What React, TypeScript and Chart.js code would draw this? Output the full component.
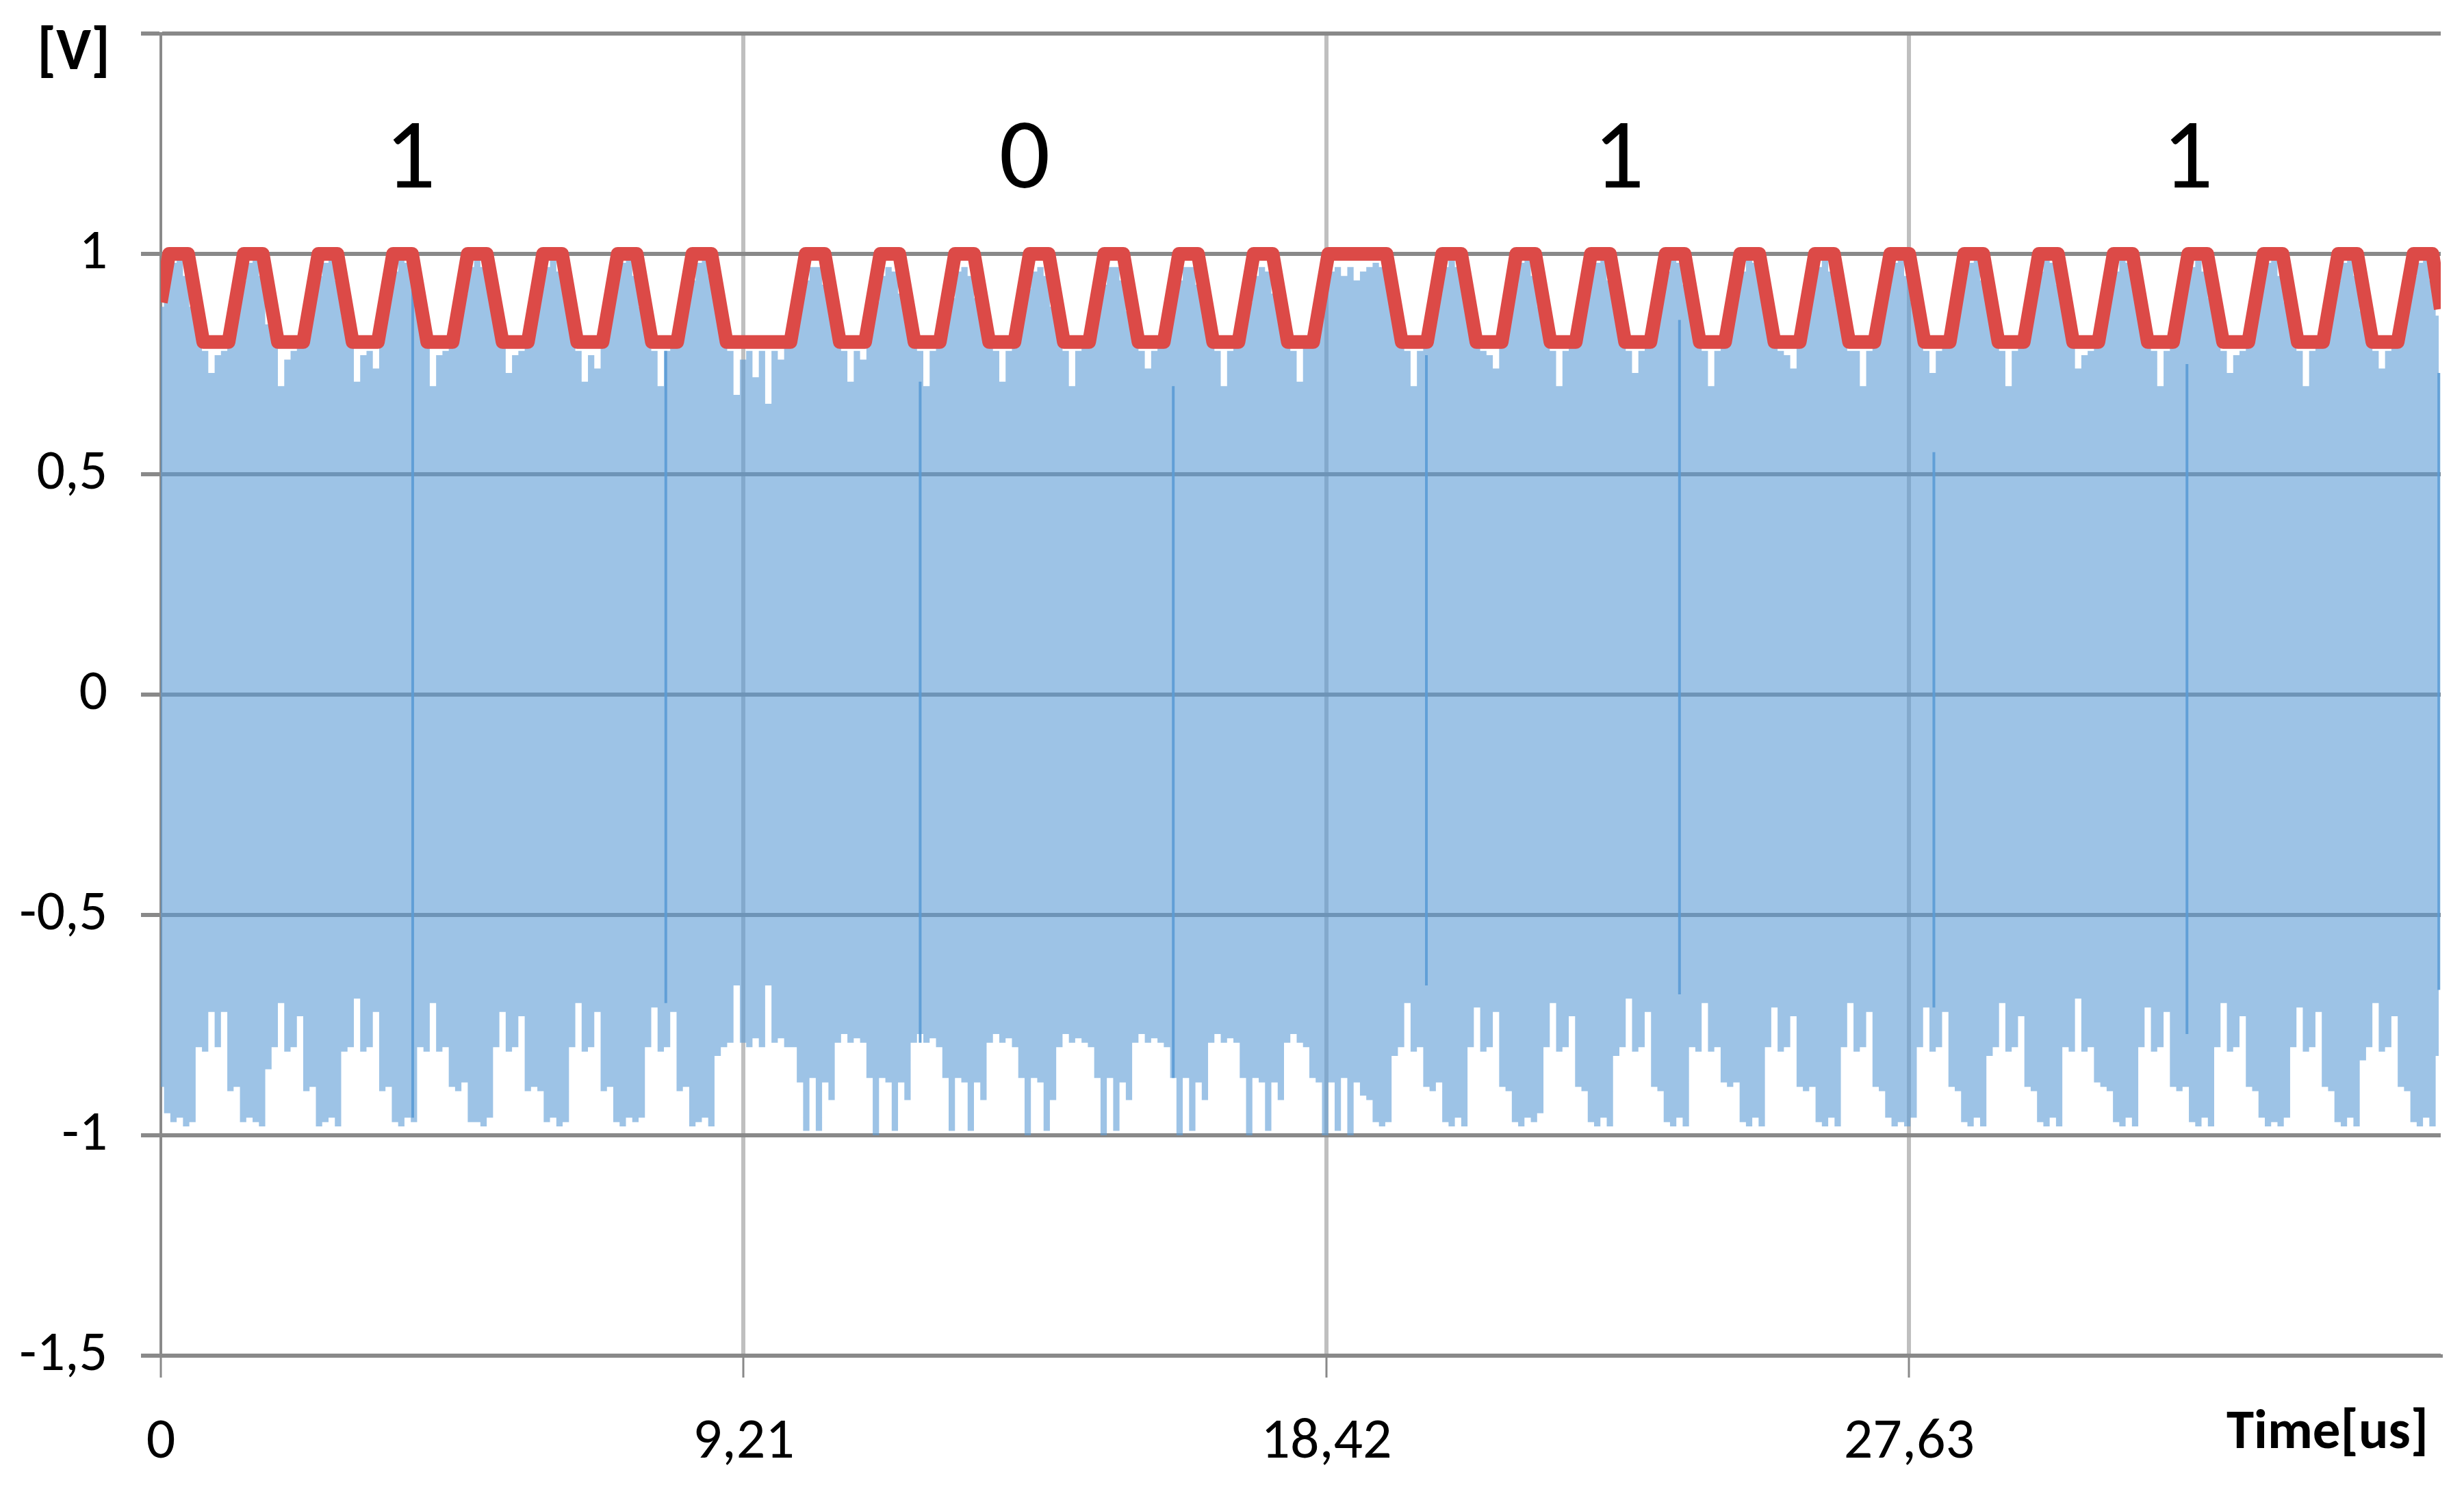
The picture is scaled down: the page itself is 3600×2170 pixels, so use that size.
import React, { useEffect, useRef } from 'react';
import { Chart, registerables } from 'chart.js';

Chart.register(...registerables);

const FONT = "Carlito, Lato, 'Liberation Sans Narrow', 'DejaVu Sans Condensed', sans-serif";

// Axis ticks
const xTickValues = [0, 9.21, 18.42, 27.63];
const xTickLabels = ['0', '9,21', '18,42', '27,63'];
const yTickValues = [-1.5, -1, -0.5, 0, 0.5, 1, 1.5];
const yTickLabels = ['-1,5', '-1', '-0,5', '0', '0,5', '1', ''];
const xMax = 36.03;

// Bit annotations
const bitLabels = ['1', '0', '1', '1'];
const bitLabelTime = [3.94, 13.65, 23.04, 32.03];
const bitLabelVolt = 1.15;

// Red (reference carrier) polyline vertices
const redTime = [
  0, 0.13, 0.43, 0.67, 1.07, 1.31, 1.61, 1.85, 2.25, 2.49, 2.79, 3.03, 3.43, 3.67, 3.97, 4.21, 4.61,
  4.85, 5.15, 5.40, 5.80, 6.04, 6.34, 6.58, 6.98, 7.22, 7.52, 7.76, 8.16, 8.40, 8.70,
  8.94, 9.95,
  10.19, 10.49, 10.73, 11.13, 11.37, 11.67, 11.91, 12.31, 12.55, 12.85, 13.09, 13.49, 13.73, 14.03,
  14.27, 14.67, 14.91, 15.21, 15.45, 15.85, 16.09, 16.39, 16.63, 17.03, 17.27, 17.57, 17.81, 18.21,
  18.45, 19.37,
  19.61, 20.01, 20.25, 20.55, 20.79, 21.19, 21.42, 21.72, 21.96, 22.36, 22.60, 22.90, 23.14, 23.54,
  23.78, 24.08, 24.32, 24.72, 24.96, 25.26, 25.50, 25.90, 26.14, 26.44, 26.68, 27.08, 27.33, 27.63,
  27.87, 28.27, 28.50, 28.80, 29.04, 29.44, 29.68, 29.98, 30.22, 30.62, 30.86, 31.16, 31.40, 31.80,
  32.04, 32.34, 32.59, 32.99, 33.23, 33.53, 33.77, 34.17, 34.41, 34.71, 34.95, 35.35, 35.60, 35.90,
  36.03,
];
const redVolt = [
  0.89,
  1, 1, 0.8, 0.8, 1, 1, 0.8, 0.8, 1, 1, 0.8, 0.8, 1, 1, 0.8, 0.8,
  1, 1, 0.8, 0.8, 1, 1, 0.8, 0.8, 1, 1, 0.8, 0.8, 1, 1, 0.8, 0.8,
  1, 1, 0.8, 0.8, 1, 1, 0.8, 0.8, 1, 1, 0.8, 0.8, 1, 1, 0.8, 0.8,
  1, 1, 0.8, 0.8, 1, 1, 0.8, 0.8, 1, 1, 0.8, 0.8, 1, 1, 0.8, 0.8,
  1, 1, 0.8, 0.8, 1, 1, 0.8, 0.8, 1, 1, 0.8, 0.8, 1, 1, 0.8, 0.8,
  1, 1, 0.8, 0.8, 1, 1, 0.8, 0.8, 1, 1, 0.8, 0.8, 1, 1, 0.8, 0.8,
  1, 1, 0.8, 0.8, 1, 1, 0.8, 0.8, 1, 1, 0.8, 0.8, 1, 1, 0.8, 0.8,
  1, 1, 0.8, 0.8,
  1, 1,
  0.875,
];

// Blue received signal: upper and lower envelope, sampled every 0.1 us from 0 to 36 us
const blueSampleStep = 0.1;
const blueTop = [
  0.88, 0.95, 0.98, 0.99, 0.95, 0.88, 0.82, 0.78, 0.73, 0.77,
  0.78, 0.82, 0.87, 0.94, 0.98, 0.99, 0.95, 0.84, 0.81, 0.70,
  0.76, 0.78, 0.79, 0.83, 0.88, 0.95, 0.98, 0.99, 0.94, 0.86,
  0.80, 0.71, 0.77, 0.78, 0.74, 0.84, 0.90, 0.96, 0.99, 0.98,
  0.93, 0.85, 0.80, 0.70, 0.77, 0.78, 0.80, 0.85, 0.91, 0.97,
  0.99, 0.97, 0.92, 0.84, 0.79, 0.73, 0.77, 0.78, 0.80, 0.86,
  0.92, 0.97, 0.99, 0.96, 0.90, 0.83, 0.78, 0.71, 0.77, 0.74,
  0.81, 0.87, 0.94, 0.98, 0.99, 0.95, 0.88, 0.82, 0.78, 0.70,
  0.78, 0.79, 0.82, 0.88, 0.94, 0.98, 0.99, 0.95, 0.87, 0.81,
  0.78, 0.68, 0.76, 0.78, 0.72, 0.78, 0.66, 0.78, 0.76, 0.79,
  0.82, 0.88, 0.94, 0.97, 0.97, 0.93, 0.86, 0.80, 0.78, 0.71,
  0.78, 0.76, 0.83, 0.89, 0.95, 0.97, 0.96, 0.91, 0.85, 0.80,
  0.78, 0.70, 0.78, 0.80, 0.84, 0.90, 0.96, 0.97, 0.95, 0.90,
  0.84, 0.79, 0.78, 0.71, 0.78, 0.80, 0.86, 0.92, 0.96, 0.97,
  0.95, 0.88, 0.82, 0.78, 0.70, 0.78, 0.79, 0.82, 0.87, 0.93,
  0.97, 0.97, 0.94, 0.87, 0.81, 0.78, 0.74, 0.78, 0.79, 0.82,
  0.88, 0.94, 0.97, 0.97, 0.93, 0.86, 0.80, 0.78, 0.70, 0.78,
  0.79, 0.83, 0.89, 0.95, 0.97, 0.96, 0.91, 0.85, 0.80, 0.78,
  0.71, 0.79, 0.82, 0.88, 0.93, 0.96, 0.97, 0.95, 0.97, 0.94,
  0.96, 0.97, 0.98, 0.97, 0.95, 0.88, 0.81, 0.78, 0.70, 0.78,
  0.80, 0.85, 0.91, 0.97, 0.99, 0.97, 0.92, 0.84, 0.79, 0.78,
  0.77, 0.74, 0.81, 0.87, 0.93, 0.98, 0.99, 0.95, 0.88, 0.82,
  0.78, 0.70, 0.78, 0.79, 0.82, 0.88, 0.95, 0.98, 0.99, 0.94,
  0.87, 0.81, 0.78, 0.73, 0.78, 0.79, 0.83, 0.89, 0.96, 0.99,
  0.98, 0.93, 0.86, 0.80, 0.78, 0.70, 0.78, 0.80, 0.85, 0.91,
  0.96, 0.99, 0.98, 0.92, 0.85, 0.79, 0.78, 0.77, 0.74, 0.80,
  0.86, 0.92, 0.97, 0.99, 0.96, 0.90, 0.83, 0.78, 0.78, 0.70,
  0.78, 0.81, 0.87, 0.93, 0.98, 0.99, 0.95, 0.89, 0.82, 0.78,
  0.73, 0.78, 0.79, 0.82, 0.88, 0.95, 0.98, 0.99, 0.94, 0.87,
  0.81, 0.78, 0.70, 0.78, 0.79, 0.83, 0.89, 0.96, 0.99, 0.98,
  0.93, 0.86, 0.80, 0.74, 0.77, 0.78, 0.80, 0.85, 0.91, 0.96,
  0.99, 0.98, 0.92, 0.85, 0.79, 0.78, 0.70, 0.78, 0.80, 0.86,
  0.92, 0.97, 0.99, 0.96, 0.90, 0.83, 0.78, 0.73, 0.77, 0.78,
  0.81, 0.87, 0.93, 0.98, 0.99, 0.95, 0.89, 0.82, 0.78, 0.70,
  0.78, 0.79, 0.82, 0.87, 0.94, 0.98, 0.99, 0.95, 0.87, 0.81,
  0.78, 0.74, 0.78, 0.79, 0.82, 0.88, 0.95, 0.98, 0.99, 0.94,
  0.86,
];
const blueBottom = [
  -0.89, -0.95, -0.97, -0.96, -0.98, -0.97, -0.80, -0.81, -0.72, -0.80,
  -0.72, -0.90, -0.89, -0.97, -0.96, -0.97, -0.98, -0.85, -0.80, -0.70,
  -0.81, -0.80, -0.73, -0.90, -0.89, -0.98, -0.97, -0.96, -0.98, -0.81,
  -0.80, -0.69, -0.81, -0.80, -0.72, -0.90, -0.89, -0.97, -0.98, -0.96,
  -0.97, -0.80, -0.81, -0.70, -0.81, -0.80, -0.89, -0.90, -0.88, -0.97,
  -0.97, -0.98, -0.96, -0.80, -0.72, -0.81, -0.80, -0.73, -0.90, -0.89,
  -0.90, -0.97, -0.96, -0.98, -0.97, -0.80, -0.70, -0.81, -0.80, -0.72,
  -0.90, -0.89, -0.97, -0.98, -0.96, -0.97, -0.96, -0.80, -0.71, -0.81,
  -0.80, -0.72, -0.90, -0.89, -0.98, -0.97, -0.96, -0.98, -0.82, -0.80,
  -0.79, -0.66, -0.79, -0.80, -0.78, -0.80, -0.66, -0.79, -0.78, -0.80,
  -0.80, -0.88, -0.99, -0.87, -0.99, -0.88, -0.92, -0.79, -0.77, -0.79,
  -0.78, -0.79, -0.87, -1.00, -0.87, -0.88, -0.99, -0.88, -0.92, -0.79,
  -0.77, -0.79, -0.78, -0.80, -0.87, -0.99, -0.87, -0.88, -0.99, -0.88,
  -0.92, -0.79, -0.77, -0.79, -0.78, -0.80, -0.87, -1.00, -0.87, -0.88,
  -0.99, -0.92, -0.80, -0.77, -0.79, -0.78, -0.79, -0.80, -0.87, -1.00,
  -0.87, -0.99, -0.88, -0.92, -0.79, -0.77, -0.79, -0.78, -0.79, -0.80,
  -0.87, -1.00, -0.87, -0.99, -0.88, -0.92, -0.79, -0.77, -0.79, -0.78,
  -0.79, -0.87, -1.00, -0.87, -0.88, -0.99, -0.88, -0.92, -0.79, -0.77,
  -0.79, -0.80, -0.87, -0.88, -1.00, -0.88, -0.99, -0.87, -1.00, -0.88,
  -0.91, -0.92, -0.97, -0.98, -0.97, -0.82, -0.80, -0.70, -0.81, -0.80,
  -0.89, -0.90, -0.88, -0.97, -0.98, -0.96, -0.98, -0.80, -0.71, -0.81,
  -0.80, -0.72, -0.89, -0.90, -0.97, -0.98, -0.96, -0.97, -0.95, -0.80,
  -0.70, -0.81, -0.80, -0.73, -0.89, -0.90, -0.97, -0.98, -0.96, -0.98,
  -0.82, -0.80, -0.69, -0.81, -0.80, -0.72, -0.89, -0.90, -0.97, -0.98,
  -0.96, -0.98, -0.80, -0.81, -0.70, -0.81, -0.80, -0.88, -0.89, -0.88,
  -0.97, -0.98, -0.96, -0.98, -0.80, -0.71, -0.81, -0.80, -0.73, -0.89,
  -0.90, -0.89, -0.97, -0.98, -0.96, -0.98, -0.80, -0.70, -0.81, -0.80,
  -0.72, -0.89, -0.90, -0.96, -0.98, -0.97, -0.98, -0.96, -0.80, -0.71,
  -0.81, -0.80, -0.72, -0.89, -0.90, -0.97, -0.98, -0.96, -0.98, -0.82,
  -0.80, -0.70, -0.81, -0.80, -0.73, -0.89, -0.90, -0.97, -0.98, -0.96,
  -0.98, -0.80, -0.81, -0.69, -0.81, -0.80, -0.88, -0.89, -0.90, -0.97,
  -0.98, -0.96, -0.98, -0.80, -0.71, -0.81, -0.80, -0.72, -0.89, -0.90,
  -0.89, -0.97, -0.98, -0.96, -0.98, -0.80, -0.70, -0.81, -0.80, -0.73,
  -0.89, -0.90, -0.96, -0.98, -0.97, -0.98, -0.96, -0.80, -0.71, -0.81,
  -0.80, -0.72, -0.89, -0.90, -0.97, -0.98, -0.96, -0.98, -0.83, -0.80,
  -0.70, -0.81, -0.80, -0.73, -0.89, -0.90, -0.97, -0.98, -0.96, -0.98,
  -0.82,
];

// Darker blue vertical strokes in the blue signal
const spikeTime = [3.98, 7.98, 12.0, 16.0, 20.0, 24.0, 28.02, 32.02, 36.0];
const spikeTop = [0.97, 0.78, 0.71, 0.70, 0.77, 0.85, 0.55, 0.75, 0.73];
const spikeBottom = [-0.96, -0.70, -0.79, -0.87, -0.66, -0.68, -0.71, -0.77, -0.67];

const textPlugin = {
  id: 'chartTexts',
  afterDraw(chart: any) {
    const { ctx, chartArea, scales } = chart;
    ctx.save();
    ctx.fillStyle = '#000';
    ctx.textBaseline = 'alphabetic';
    ctx.textAlign = 'center';
    ctx.font = `147px ${FONT}`;
    bitLabels.forEach((s, i) => {
      ctx.fillText(s, scales.x.getPixelForValue(bitLabelTime[i]), scales.y.getPixelForValue(bitLabelVolt));
    });
    ctx.textAlign = 'right';
    ctx.font = `bold 86px ${FONT}`;
    ctx.fillText('[V]', chartArea.left - 74, chartArea.top + 52);
    ctx.font = `bold 81px ${FONT}`;
    ctx.fillText('Time[us]', chartArea.right - 18, chartArea.bottom + 135);
    ctx.restore();
  },
};

export default function App() {
  const ref = useRef<HTMLCanvasElement | null>(null);

  useEffect(() => {
    if (!ref.current) return;
    const redData = redTime.map((t, i) => ({ x: t, y: redVolt[i] }));
    const topData = blueTop.map((v, i) => ({ x: +(i * blueSampleStep).toFixed(2), y: v }));
    const bottomData = blueBottom.map((v, i) => ({ x: +(i * blueSampleStep).toFixed(2), y: v }));
    const spikeData: { x: number; y: number | null }[] = [];
    spikeTime.forEach((t, i) => {
      spikeData.push({ x: t, y: spikeTop[i] });
      spikeData.push({ x: t, y: spikeBottom[i] });
      spikeData.push({ x: t, y: null });
    });

    const chart = new Chart(ref.current, {
      type: 'line',
      data: {
        datasets: [
          {
            data: redData,
            borderColor: '#DC4A47',
            borderWidth: 20,
            borderJoinStyle: 'round',
            pointRadius: 0,
            fill: false,
            tension: 0,
          },
          {
            data: spikeData as any,
            borderColor: 'rgba(91,155,213,0.9)',
            borderWidth: 4,
            pointRadius: 0,
            fill: false,
            spanGaps: false,
          },
          {
            data: topData,
            borderColor: 'rgba(0,0,0,0)',
            borderWidth: 0,
            pointRadius: 0,
            stepped: 'middle',
            fill: '+1',
            backgroundColor: 'rgba(91,155,213,0.6)',
          },
          {
            data: bottomData,
            borderColor: 'rgba(0,0,0,0)',
            borderWidth: 0,
            pointRadius: 0,
            stepped: 'middle',
            fill: false,
          },
        ],
      },
      options: {
        animation: false,
        responsive: true,
        maintainAspectRatio: false,
        devicePixelRatio: 1,
        layout: { padding: { top: 49, right: 34, left: 0, bottom: 0 } },
        plugins: {
          legend: { display: false },
          tooltip: { enabled: false },
        },
        elements: { line: { tension: 0 } },
        scales: {
          x: {
            type: 'linear',
            min: 0,
            max: xMax,
            afterBuildTicks: (s: any) => {
              s.ticks = xTickValues.map((v) => ({ value: v }));
            },
            afterFit: (s: any) => {
              s.height = 189;
              s.paddingLeft = 0;
              s.paddingRight = 0;
            },
            ticks: {
              autoSkip: false,
              maxRotation: 0,
              padding: 46,
              color: '#000',
              font: { family: FONT, size: 84 },
              callback: (_v: any, i: number) => xTickLabels[i],
            },
            grid: {
              color: (c: any) => (c.tick && c.tick.value === 0 ? 'rgba(0,0,0,0)' : '#BFBFBF'),
              lineWidth: 6,
              tickLength: 32,
              tickColor: '#898989',
              tickWidth: 3,
            },
            border: { display: true, color: '#898989', width: 5 },
          },
          y: {
            type: 'linear',
            min: -1.5,
            max: 1.5,
            afterBuildTicks: (s: any) => {
              s.ticks = yTickValues.map((v) => ({ value: v }));
            },
            afterFit: (s: any) => {
              s.width = 235;
              s.paddingTop = 0;
              s.paddingBottom = 0;
            },
            ticks: {
              padding: 49,
              color: '#000',
              font: { family: FONT, size: 82 },
              callback: (_v: any, i: number) => yTickLabels[i],
            },
            grid: {
              color: '#898989',
              lineWidth: 6,
              tickLength: 29,
              tickColor: '#898989',
              tickWidth: 6,
            },
            border: { display: true, color: '#8A8A8A', width: 4 },
          },
        },
      },
      plugins: [textPlugin],
    } as any);
    return () => chart.destroy();
  }, []);

  return (
    <div style={{ position: 'fixed', left: 0, top: 0, width: 3600, height: 2170, background: '#fff' }}>
      <canvas ref={ref} />
    </div>
  );
}
